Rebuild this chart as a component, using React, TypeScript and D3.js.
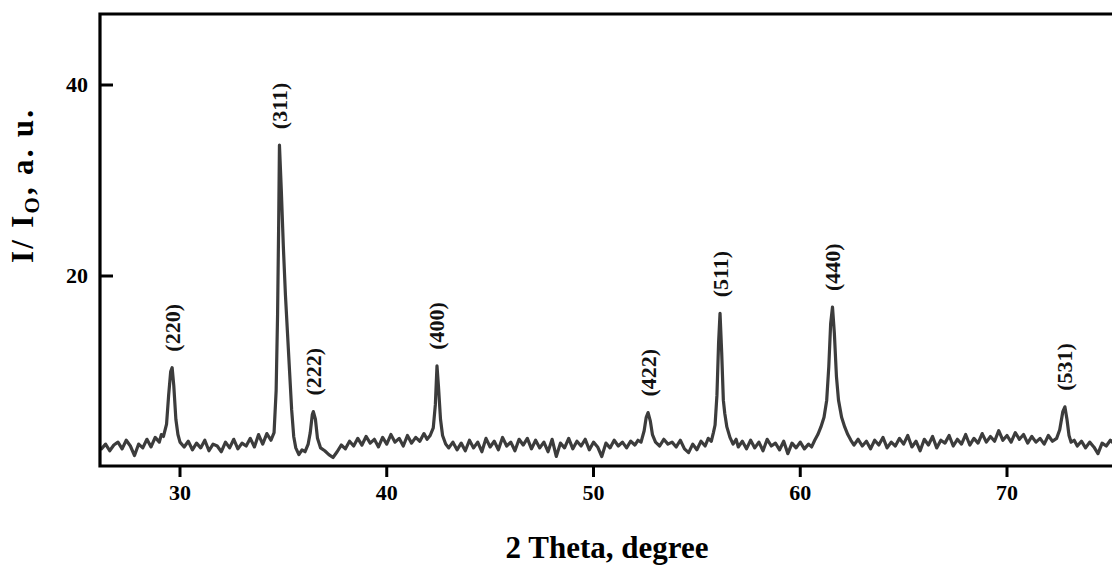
import React from "react";
import * as d3 from "d3";

// ---- data: [2θ (deg), I/I0 (a.u.)] ----
const scanA: [number, number][] = [
  [26.2, 1.9], [26.4, 2.4], [26.6, 1.7], [26.8, 2.3], [27.0, 2.6], [27.2, 1.9], [27.4, 2.8], [27.6, 2.2],
  [27.8, 1.2], [28.0, 2.4], [28.2, 2.0], [28.4, 2.9], [28.6, 2.1], [28.8, 3.1], [29.0, 2.6], [29.1, 3.4],
  [29.2, 3.2], [29.35, 4.5], [29.45, 7.5], [29.55, 10.0], [29.62, 10.4], [29.7, 8.5], [29.8, 5.0],
  [29.9, 3.4], [30.0, 2.6],
];
const scanB: [number, number][] = [
  [30.2, 2.1], [30.4, 2.7], [30.6, 1.8], [30.8, 2.5], [31.0, 2.0], [31.2, 2.8], [31.4, 1.7], [31.6, 2.4],
  [31.8, 2.2], [32.0, 1.6], [32.2, 2.6], [32.4, 2.0], [32.6, 2.9], [32.8, 1.9], [33.0, 2.5], [33.2, 2.2],
  [33.4, 3.0], [33.6, 2.1], [33.8, 3.4], [34.0, 2.4], [34.2, 3.5], [34.4, 2.8], [34.55, 3.6], [34.65, 8],
  [34.72, 16], [34.77, 25], [34.81, 33.7], [34.9, 29], [35.0, 23], [35.1, 18], [35.2, 14], [35.3, 10],
  [35.4, 6], [35.5, 3.2], [35.6, 2.0], [35.75, 1.3], [35.9, 1.8], [36.05, 1.6],
];
const scanC: [number, number][] = [
  [36.2, 2.4], [36.3, 3.6], [36.4, 5.5], [36.45, 5.8], [36.55, 5.0], [36.65, 3.0], [36.8, 2.0], [37.0, 1.7],
  [37.2, 1.3], [37.4, 1.0], [37.6, 1.6], [37.8, 2.3], [38.0, 1.9], [38.2, 2.7], [38.4, 2.2], [38.6, 3.0],
  [38.8, 2.3], [39.0, 3.2], [39.2, 2.5], [39.4, 2.9], [39.6, 2.1], [39.8, 3.1], [40.0, 2.4], [40.2, 3.4],
  [40.4, 2.6], [40.6, 3.0], [40.8, 2.2], [41.0, 3.3], [41.2, 2.5], [41.4, 3.1], [41.6, 2.7], [41.8, 3.5],
  [41.95, 2.9], [42.1, 3.3], [42.25, 4.1], [42.35, 6.5], [42.43, 10.6], [42.5, 8.5], [42.6, 5.0],
  [42.7, 3.3], [42.85, 2.4],
];
const scanD: [number, number][] = [
  [43.0, 2.0], [43.2, 2.6], [43.4, 1.8], [43.6, 2.5], [43.8, 1.7], [44.0, 2.8], [44.2, 2.0], [44.4, 2.6],
  [44.6, 1.6], [44.8, 3.0], [45.0, 2.1], [45.2, 2.7], [45.4, 1.8], [45.6, 3.1], [45.8, 2.2], [46.0, 2.6],
  [46.2, 1.7], [46.4, 2.9], [46.6, 2.3], [46.8, 3.0], [47.0, 1.9], [47.2, 2.8], [47.4, 2.0], [47.6, 2.6],
  [47.8, 1.6], [48.0, 2.9], [48.2, 1.1], [48.4, 2.5], [48.6, 2.0], [48.8, 3.0], [49.0, 1.9], [49.2, 2.7],
  [49.4, 2.2], [49.6, 2.9], [49.8, 1.8], [50.0, 2.6], [50.2, 2.1], [50.4, 1.1], [50.6, 2.5], [50.8, 2.0],
  [51.0, 2.8], [51.2, 2.2], [51.4, 2.6], [51.6, 2.0], [51.8, 2.7], [52.0, 2.3], [52.15, 2.8], [52.3, 2.6],
  [52.45, 3.8], [52.55, 5.2], [52.64, 5.7], [52.75, 4.8], [52.85, 3.4], [53.0, 2.6],
];
const scanE: [number, number][] = [
  [53.2, 2.2], [53.4, 2.9], [53.6, 2.4], [53.8, 2.6], [54.0, 2.1], [54.2, 2.8], [54.4, 1.9], [54.6, 1.5],
  [54.8, 2.4], [55.0, 1.8], [55.2, 2.7], [55.4, 2.2], [55.55, 3.0], [55.7, 2.7], [55.8, 3.6], [55.88, 4.4],
  [55.97, 7.5], [56.05, 13], [56.12, 16.1], [56.2, 12], [56.28, 7], [56.35, 5.6], [56.45, 4.2],
  [56.6, 3.1], [56.75, 2.4],
];
const scanF: [number, number][] = [
  [56.9, 2.9], [57.0, 2.1], [57.2, 2.7], [57.4, 1.9], [57.6, 2.8], [57.8, 2.0], [58.0, 2.6], [58.2, 1.7],
  [58.4, 2.9], [58.6, 2.2], [58.8, 2.5], [59.0, 1.8], [59.2, 2.7], [59.4, 1.4], [59.6, 2.5], [59.8, 2.0],
  [60.0, 2.6], [60.2, 1.9], [60.4, 2.4], [60.55, 2.1], [60.7, 2.8], [60.85, 3.4], [61.0, 4.2], [61.15, 5.2],
  [61.28, 7.0], [61.38, 10.5], [61.47, 15], [61.56, 16.75], [61.65, 14], [61.75, 9.5], [61.85, 7.0],
  [62.0, 5.2], [62.15, 4.2], [62.3, 3.4], [62.45, 2.8],
];
const scanG: [number, number][] = [
  [62.6, 2.3], [62.8, 2.9], [63.0, 2.2], [63.2, 2.7], [63.4, 1.9], [63.6, 2.8], [63.8, 2.3], [64.0, 3.1],
  [64.2, 2.0], [64.4, 2.6], [64.6, 2.2], [64.8, 3.0], [65.0, 2.4], [65.2, 3.3], [65.4, 2.1], [65.6, 2.7],
  [65.8, 1.7], [66.0, 2.9], [66.2, 2.3], [66.4, 3.2], [66.6, 2.0], [66.8, 2.8], [67.0, 2.5], [67.2, 3.3],
  [67.4, 2.2], [67.6, 2.9], [67.8, 2.4], [68.0, 3.4], [68.2, 2.3], [68.4, 3.0], [68.6, 2.5], [68.8, 3.5],
  [69.0, 2.6], [69.2, 3.2], [69.4, 2.7], [69.6, 3.8], [69.8, 2.8], [70.0, 3.3], [70.2, 2.6], [70.4, 3.6],
  [70.6, 2.9], [70.8, 3.4], [71.0, 2.5], [71.2, 3.2], [71.4, 2.6], [71.6, 3.0], [71.8, 2.4], [72.0, 3.3],
  [72.2, 2.7], [72.4, 3.0], [72.55, 3.9], [72.7, 5.8], [72.8, 6.3], [72.9, 5.0], [73.0, 3.3], [73.1, 2.6],
  [73.25, 2.8], [73.4, 2.2], [73.6, 2.7], [73.8, 2.0], [74.0, 2.6], [74.2, 2.1], [74.4, 1.4], [74.6, 2.5],
  [74.8, 2.2], [75.0, 2.8], [75.2, 2.4],
];

const peakHkl = ["(220)", "(311)", "(222)", "(400)", "(422)", "(511)", "(440)", "(531)"];
const peakTheta = [29.62, 34.81, 36.45, 42.43, 52.64, 56.12, 61.56, 72.8];
const peakIntensity = [10.4, 33.7, 5.8, 10.6, 5.7, 16.1, 16.75, 6.3];

const xTicks = [30, 40, 50, 60, 70];
const yTicks = [20, 40];

const W = 1112;
const H = 568;
const FONT = "'Liberation Serif', 'Times New Roman', serif";

export default function App() {
  const x = d3.scaleLinear().domain([30, 70]).range([180, 1007]);
  const y = d3.scaleLinear().domain([0, 40]).range([467, 85]);
  const left = x(26.13);
  const top = 14;
  const bottom = 466;

  const scan = [...scanA, ...scanB, ...scanC, ...scanD, ...scanE, ...scanF, ...scanG];
  const line = d3
    .line<[number, number]>()
    .x((d) => x(d[0]))
    .y((d) => y(d[1]));

  return (
    <svg
      width={W}
      height={H}
      style={{ position: "absolute", left: 0, top: 0, background: "#fff" }}
      fontFamily={FONT}
      fontWeight="bold"
    >
      <rect x={0} y={0} width={W} height={H} fill="#fff" />
      <defs>
        <clipPath id="plot">
          <rect x={left} y={top} width={W - left} height={bottom - top} />
        </clipPath>
      </defs>

      {/* data trace */}
      <g clipPath="url(#plot)">
        <path
          d={line(scan) || ""}
          fill="none"
          stroke="#3c3c3c"
          strokeWidth={3.2}
          strokeLinejoin="round"
          strokeLinecap="round"
        />
      </g>

      {/* frame */}
      <path
        d={`M${W + 5},${top} H${left} V${bottom} H${W + 5}`}
        fill="none"
        stroke="#000"
        strokeWidth={3.2}
      />

      {/* x ticks */}
      {xTicks.map((t) => (
        <g key={"x" + t}>
          <line x1={x(t)} x2={x(t)} y1={bottom} y2={bottom + 11} stroke="#000" strokeWidth={3} />
          <text x={x(t)} y={500} textAnchor="middle" fontSize={22} fill="#000">
            {t}
          </text>
        </g>
      ))}

      {/* y ticks */}
      {yTicks.map((t) => (
        <g key={"y" + t}>
          <line x1={left} x2={left + 13} y1={y(t)} y2={y(t)} stroke="#000" strokeWidth={3} />
          <text x={88} y={y(t) + 7} textAnchor="end" fontSize={22} fill="#000">
            {t}
          </text>
        </g>
      ))}

      {/* peak labels */}
      {peakHkl.map((lab, i) => {
        const px = x(peakTheta[i]);
        const py = y(peakIntensity[i]) - 16;
        return (
          <text
            key={lab}
            transform={`translate(${px},${py}) rotate(-90)`}
            textAnchor="start"
            dominantBaseline="central"
            fontSize={22}
            fill="#111"
          >
            {lab}
          </text>
        );
      })}

      {/* axis titles */}
      <text x={607} y={558} textAnchor="middle" fontSize={31} fill="#000">
        2 Theta, degree
      </text>
      <text
        transform={`translate(33,${263}) rotate(-90)`}
        textAnchor="start"
        fontSize={31}
        fill="#000"
        textLength={153}
        lengthAdjust="spacing"
      >
        I/ I
        <tspan fontSize={21} dy={6}>
          O
        </tspan>
        <tspan dy={-6}>, a. u.</tspan>
      </text>
    </svg>
  );
}
